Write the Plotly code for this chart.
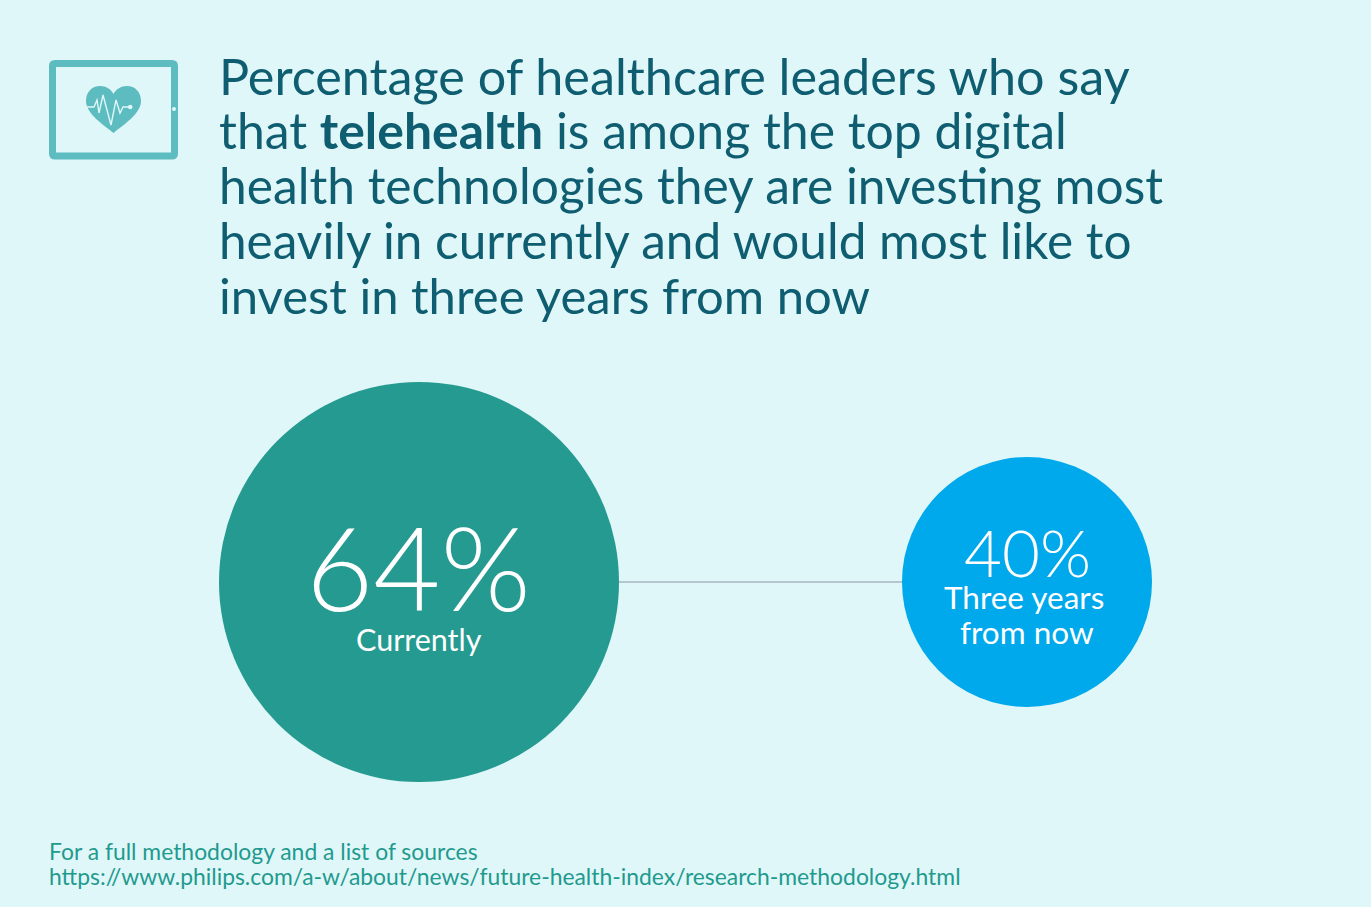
import plotly.graph_objects as go

labels = ["Currently", "Three years", "from now"]
values = [64, 40]
x_pos = [419, 1027]
title_lines = ["Percentage of healthcare leaders who say",
               "that <b>telehealth</b> is among the top digital",
               "health technologies they are investing most",
               "heavily in currently and would most like to",
               "invest in three years from now"]
foot = ["For a full methodology and a list of sources",
        "https://www.philips.com/a-w/about/news/future-health-index/research-methodology.html"]
BG = "#dff7f8"
F = "Lato"
ICON = "#5cbcc0"
W, H = 1371, 907
TITLE_SIZES = [50.3, 49.9, 49.7, 49.5, 49.0]

fig = go.Figure()
fig.add_trace(go.Scatter(x=x_pos, y=[582, 582], mode="lines", line=dict(color="#b5c6cf", width=2), hoverinfo="skip", showlegend=False))
fig.add_shape(type="circle", x0=219, x1=619, y0=382, y1=782, fillcolor="#259a90", line_width=0, layer="above")
fig.add_shape(type="circle", x0=902, x1=1152, y0=457, y1=707, fillcolor="#00a8ec", line_width=0, layer="above")

# tablet icon
fig.add_shape(type="path", layer="above", line=dict(color=ICON, width=7), fillcolor="rgba(0,0,0,0)",
              path="M 55 63.5 L 172 63.5 Q 174.5 63.5 174.5 66 L 174.5 153.5 Q 174.5 156 172 156 L 55 156 Q 52.5 156 52.5 153.5 L 52.5 66 Q 52.5 63.5 55 63.5 Z")
fig.add_shape(type="circle", layer="above", x0=172, x1=176, y0=107, y1=111, fillcolor=BG, line_width=0)
fig.add_shape(type="path", layer="above", fillcolor=ICON, line_width=0,
              path="M 113.5 133 C 104 125 86 114 86 101 C 86 92 92 86 100 86 C 106 86 111 89 113.5 94 C 116 89 121 86 127 86 C 135 86 141 92 141 101 C 141 114 123 125 113.5 133 Z")
fig.add_shape(type="path", layer="above", line=dict(color=BG, width=1.4), fillcolor="rgba(0,0,0,0)",
              path="M 87 107 L 94 107 L 97 100 L 99 113 L 103 95 L 111 125 L 116 100 L 120 113 L 123 107 L 130 107")
fig.add_shape(type="circle", layer="above", x0=128, x1=132.5, y0=104.7, y1=109.3, fillcolor=BG, line_width=0)

def t(x, y, s, size, color, anchor="left", weight=400):
    fig.add_annotation(x=x, y=y, text=s, showarrow=False, xanchor=anchor, yanchor="middle",
                       font=dict(family=F, size=size, color=color, weight=weight))
for i, l in enumerate(title_lines):
    t(217, 75 + i * 55, l, TITLE_SIZES[i], "#0f5d70")
t(418.5, 566, f"{values[0]}%", 116, "white", "center", 300)
t(419, 638.5, labels[0], 30.5, "white", "center")
t(1027, 551, f"{values[1]}%", 65.5, "white", "center", 300)
t(1023.5, 597, labels[1], 31.5, "white", "center")
t(1026.5, 631.5, labels[2], 31.5, "white", "center")
t(46.5, 851, foot[0], 22.9, "#1f9a8e")
t(46.5, 876, foot[1], 22.9, "#1f9a8e")
fig.update_xaxes(range=[0, W], visible=False, fixedrange=True)
fig.update_yaxes(range=[H, 0], visible=False, fixedrange=True)
fig.update_layout(width=W, height=H, margin=dict(l=0, r=0, t=0, b=0), paper_bgcolor=BG, plot_bgcolor=BG)
fig.write_html("out.html", config={"displayModeBar": False},
               post_script="document.body.style.margin='0';document.documentElement.style.overflow='hidden';window.dispatchEvent(new Event('resize'));")
